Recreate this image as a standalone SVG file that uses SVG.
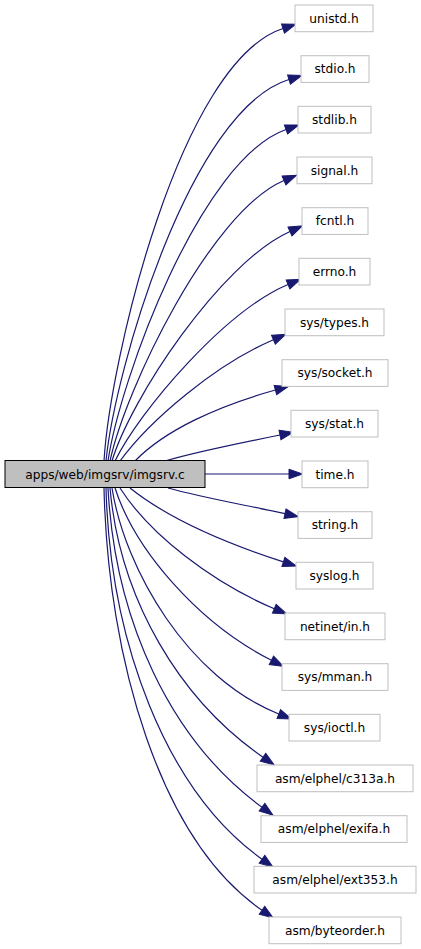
<svg xmlns="http://www.w3.org/2000/svg" width="421" height="949" viewBox="0 0 421 949">
<style>
.n rect{fill:#ffffff;stroke:#bfbfbf;stroke-width:1}
.m rect{fill:#bfbfbf;stroke:#000000;stroke-width:1}
text{font-family:"DejaVu Sans",sans-serif;font-size:12.2px;fill:#000000;text-anchor:middle}
#edges path{fill:none;stroke:#191970;stroke-width:1.2;marker-end:url(#ah)}
</style>
<defs>
<marker id="ah" markerUnits="userSpaceOnUse" markerWidth="15" markerHeight="11" refX="0" refY="4.8" orient="auto" overflow="visible">
<path d="M0,0 L13.5,4.8 L0,9.6 z" fill="#191970" stroke="#191970" stroke-width="1"/>
</marker>
</defs>
<rect width="421" height="949" fill="#ffffff"/>
<g id="edges">
<path d="M104,461 C110,360 180,62 283,28.5"/>
<path d="M106,461 C115,370 190,110 289,79.5"/>
<path d="M108,461 C120,380 200,160 286,129.5"/>
<path d="M110,461 C125,390 210,212 284,180.5"/>
<path d="M112,461 C130,400 220,263 290,231.5"/>
<path d="M115,461 C140,410 225,311 288,284.5"/>
<path d="M120,461 C150,420 215,365 273.4,339.7"/>
<path d="M135,461 C165,430 218,406 275.4,390"/>
<path d="M165,461 C195,452 240,443 280,435"/>
<path d="M205,474 L289,474"/>
<path d="M168,488 C200,497 245,505 285,513.7"/>
<path d="M130,488 C170,520 228,544 283.4,561.9"/>
<path d="M120,488 C150,535 213,583 274.3,608.7"/>
<path d="M115,488 C135,550 198,623 271.4,660.3"/>
<path d="M112,488 C125,570 188,678 278.8,714"/>
<path d="M110,488 C120,600 180,700 263,757.2"/>
<path d="M108,488 C115,620 170,740 262,807.2"/>
<path d="M106,488 C110,640 165,790 262,859.2"/>
<path d="M104,488 C108,660 160,840 262,910.2"/>
</g>
<g id="main" class="m"><rect x="5" y="460.5" width="200" height="27"/><text x="105" y="478.5">apps/web/imgsrv/imgsrv.c</text></g>
<g id="n0" class="n"><rect x="295" y="5" width="78" height="26.7"/><text x="334" y="22.5">unistd.h</text></g>
<g id="n1" class="n"><rect x="301" y="55.7" width="68" height="26.7"/><text x="335" y="73.2">stdio.h</text></g>
<g id="n2" class="n"><rect x="298" y="106.3" width="73" height="26.7"/><text x="334.5" y="123.8">stdlib.h</text></g>
<g id="n3" class="n"><rect x="297" y="157" width="75" height="26.7"/><text x="334.5" y="174.5">signal.h</text></g>
<g id="n4" class="n"><rect x="302" y="207.7" width="66" height="26.7"/><text x="335" y="225.2">fcntl.h</text></g>
<g id="n5" class="n"><rect x="299" y="258.3" width="71" height="26.7"/><text x="334.5" y="275.8">errno.h</text></g>
<g id="n6" class="n"><rect x="285" y="309" width="99" height="26.7"/><text x="334.5" y="326.5">sys/types.h</text></g>
<g id="n7" class="n"><rect x="282" y="359.7" width="106" height="26.7"/><text x="335" y="377.2">sys/socket.h</text></g>
<g id="n8" class="n"><rect x="291" y="410.3" width="87" height="26.7"/><text x="334.5" y="427.8">sys/stat.h</text></g>
<g id="n9" class="n"><rect x="302" y="461" width="66" height="26.7"/><text x="335" y="478.5">time.h</text></g>
<g id="n10" class="n"><rect x="298" y="511.7" width="74" height="26.7"/><text x="335" y="529.2">string.h</text></g>
<g id="n11" class="n"><rect x="296" y="562.3" width="77" height="26.7"/><text x="334.5" y="579.8">syslog.h</text></g>
<g id="n12" class="n"><rect x="285" y="613" width="100" height="26.7"/><text x="335" y="630.5">netinet/in.h</text></g>
<g id="n13" class="n"><rect x="282" y="663.7" width="106" height="26.7"/><text x="335" y="681.2">sys/mman.h</text></g>
<g id="n14" class="n"><rect x="289" y="714.3" width="91" height="26.7"/><text x="334.5" y="731.8">sys/ioctl.h</text></g>
<g id="n15" class="n"><rect x="257" y="765" width="156" height="26.7"/><text x="335" y="782.5">asm/elphel/c313a.h</text></g>
<g id="n16" class="n"><rect x="261" y="815.7" width="146" height="26.7"/><text x="334" y="833.2">asm/elphel/exifa.h</text></g>
<g id="n17" class="n"><rect x="254" y="866.3" width="162" height="26.7"/><text x="335" y="883.8">asm/elphel/ext353.h</text></g>
<g id="n18" class="n"><rect x="269" y="917" width="132" height="26.7"/><text x="335" y="934.5">asm/byteorder.h</text></g>
</svg>
